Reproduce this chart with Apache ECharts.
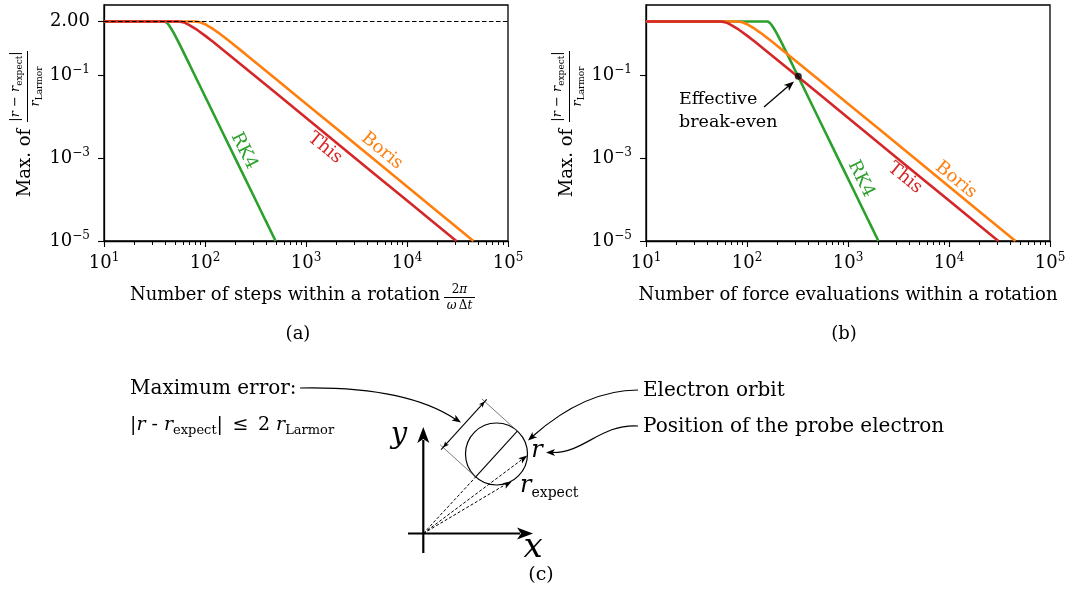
<!DOCTYPE html>
<html>
<head>
<meta charset="utf-8">
<title>Max. error per rotation</title>
<script src="https://cdn.jsdelivr.net/npm/echarts@6.0.0/dist/echarts.min.js"></script>
<style>
  html, body { margin: 0; padding: 0; background: #fff; }
  #main { width: 1068px; height: 593px; }
</style>
</head>
<body>
<div id="main"></div>
<script>
// ---- values ----
// (a) x = steps within a rotation, y = max. |r - r_expect| / r_Larmor
const rk4Steps = [10, 20, 30, 38, 40, 42, 44, 46, 48, 50, 55, 60, 70, 80, 100, 150, 200, 300, 400, 500];
const rk4Err = [2, 2, 2, 2, 2, 1.86, 1.62, 1.37, 1.15, 0.959, 0.617, 0.401, 0.186, 0.0954, 0.0313, 0.00412, 9.77e-4, 1.29e-4, 3.05e-5, 1.0e-5];
const thisSteps = [10, 20, 40, 55, 60, 65, 70, 80, 90, 100, 120, 150, 200, 300, 500, 1000, 2000, 5000, 10000, 20000, 30800];
const thisErr = [2, 2, 2, 2, 1.93, 1.80, 1.64, 1.35, 1.10, 0.910, 0.645, 0.417, 0.236, 0.105, 0.0378, 0.00945, 2.36e-3, 3.78e-4, 9.45e-5, 2.36e-5, 1.0e-5];
const borisSteps = [10, 40, 80, 90, 100, 110, 120, 135, 150, 175, 200, 250, 300, 500, 1000, 2000, 5000, 10000, 20000, 45500];
const borisErr = [2, 2, 2, 1.91, 1.72, 1.51, 1.32, 1.08, 0.888, 0.663, 0.512, 0.330, 0.229, 0.0828, 0.0207, 5.18e-3, 8.28e-4, 2.07e-4, 5.18e-5, 1.0e-5];
// (b) x = force evaluations within a rotation (RK4 needs 4 per step)
const rk4Evals = [10, 80, 120, 152, 160, 168, 176, 184, 192, 200, 220, 240, 280, 320, 400, 600, 800, 1200, 1600, 2000];
const rk4ErrB = [2, 2, 2, 2, 2, 1.86, 1.62, 1.37, 1.15, 0.959, 0.617, 0.401, 0.186, 0.0954, 0.0313, 0.00412, 9.77e-4, 1.29e-4, 3.05e-5, 1.0e-5];
const thisEvals = thisSteps;
const borisEvals = borisSteps;
const breakEven = [322, 0.095];

const xTicks = [10, 100, 1000, 10000, 100000];
const yTicksA = [1e-5, 1e-3, 1e-1, 2];
const yTicksB = [1e-5, 1e-3, 1e-1];
const limitLine = 2;
const yMin = 1e-5, yMax = 5;

const FONT = 'DejaVu Serif';
const C_RK4 = '#2ca02c', C_BORIS = '#ff7f0e', C_THIS = '#d62728';

// minor x ticks 2..9 x each decade
const minorTicks = [];
for (let d = 10; d < 1e5; d *= 10) for (let k = 2; k <= 9; k++) minorTicks.push(k * d);

function pairs(xs, ys) { return xs.map((x, i) => [x, ys[i]]); }

function powLabel(v) {
  if (Math.abs(v - 2) < 1e-9) return '{b|2.00}';
  const e = Math.round(Math.log10(v));
  return '{b|10}{sup|' + (e < 0 ? '\u2212' + (-e) : e) + '}';
}
const tickRich = {
  b: { fontFamily: FONT, fontSize: 18, color: '#000', lineHeight: 22 },
  sup: { fontFamily: FONT, fontSize: 12, color: '#000', lineHeight: 12, verticalAlign: 'top' }
};

function xAxisFor(grid) {
  return {
    type: 'log', gridIndex: grid, min: 10, max: 1e5, position: 'bottom',
    axisLine: { show: true, lineStyle: { color: '#000', width: 1.3 } },
    axisTick: { show: true, customValues: xTicks, length: 6, lineStyle: { color: '#000', width: 1.1 } },
    axisLabel: { customValues: xTicks, formatter: powLabel, rich: tickRich, margin: 11 },
    splitLine: { show: false }
  };
}
function yAxisFor(grid, ticks) {
  return {
    type: 'log', gridIndex: grid, min: yMin, max: yMax,
    axisLine: { show: true, lineStyle: { color: '#000', width: 1.3 } },
    axisTick: { show: true, customValues: ticks, length: 6, lineStyle: { color: '#000', width: 1.1 } },
    axisLabel: { customValues: ticks, formatter: powLabel, rich: tickRich, margin: 14 },
    splitLine: { show: false }
  };
}
function line(name, xi, yi, xs, ys, color, extra) {
  return Object.assign({
    name, type: 'line', xAxisIndex: xi, yAxisIndex: yi, data: pairs(xs, ys),
    showSymbol: false, symbol: 'none', clip: true,
    lineStyle: { color, width: 2.6 }, itemStyle: { color }
  }, extra || {});
}
// outward minor tick marks on the bottom axis, placed through the axis scale
function minorTickSeries(xi, yi) {
  return {
    type: 'custom', xAxisIndex: xi, yAxisIndex: yi, silent: true, clip: false, z: 3,
    data: minorTicks.map(v => [v, yMin]),
    encode: { x: 0, y: 1 },
    renderItem: function (params, api) {
      const p = api.coord([api.value(0), api.value(1)]);
      const x = Math.round(p[0]) + 0.5;
      return { type: 'line', shape: { x1: x, y1: p[1], x2: x, y2: p[1] + 4 },
        style: { stroke: '#000', lineWidth: 1 } };
    }
  };
}

// ---- annotation helpers ----
const g = [];
function txt(x, y, text, size, more) {
  more = more || {};
  g.push({
    type: 'text', x, y, rotation: more.rotation || 0, z: 100,
    style: Object.assign({ text, fontFamily: FONT, fontSize: size, fill: more.fill || '#000',
      align: more.align || 'center', verticalAlign: 'middle' }, more.style || {})
  });
}
function seg(x1, y1, x2, y2, w, dash, color) {
  g.push({ type: 'line', z: 100, shape: { x1, y1, x2, y2 },
    style: { stroke: color || '#000', lineWidth: w, lineDash: dash || null } });
}
function head(x, y, ang, len, half) {
  const c = Math.cos(ang), s = Math.sin(ang);
  const bx = x - c * len, by = y - s * len;
  const nx = x - c * len * 0.75, ny = y - s * len * 0.75;
  g.push({ type: 'polygon', z: 101, shape: { points: [[x, y], [bx - s * half, by + c * half], [nx, ny], [bx + s * half, by - c * half]] },
    style: { fill: '#000' } });
}
function mathRich(size) {
  return {
    i: { fontFamily: FONT, fontStyle: 'italic', fontSize: size, lineHeight: Math.round(size * 1.3) },
    n: { fontFamily: FONT, fontSize: size, lineHeight: Math.round(size * 1.3) },
    sub: { fontFamily: FONT, fontSize: Math.round(size * 0.68), lineHeight: Math.round(size * 0.68), verticalAlign: 'bottom' }
  };
}

// y-axis titles
[0, 542].forEach(function (dx) {
  txt(25 + dx, 163, 'Max. of', 18, { rotation: Math.PI / 2 });
  txt(16 + dx, 86.5, '|{i|r} \u2212 {i|r}{sub|expect}|', 13, { rotation: Math.PI / 2, style: { rich: mathRich(13), lineHeight: 17 } });
  seg(27.5 + dx, 51, 27.5 + dx, 122, 1);
  txt(36 + dx, 86.5, '{i|r}{sub|Larmor}', 13, { rotation: Math.PI / 2, style: { rich: mathRich(13), lineHeight: 17 } });
});
// x-axis titles
txt(440, 295, 'Number of steps within a rotation', 18, { align: 'right' });
txt(459.5, 289.5, '2{i|\u03c0}', 12, { style: { rich: mathRich(12) } });
seg(444, 297.5, 475, 297.5, 1);
txt(459.5, 305.5, '{i|\u03c9}\u2009\u0394{i|t}', 12, { style: { rich: mathRich(12) } });
txt(848, 295, 'Number of force evaluations within a rotation', 18);
txt(298, 334, '(a)', 18);
txt(844, 334, '(b)', 18);

// curve labels
const SL = -0.686, ST = -1.11;
txt(244, 151, 'RK4', 18, { rotation: ST, fill: C_RK4 });
txt(325, 148, 'This', 18, { rotation: SL, fill: C_THIS });
txt(382, 151, 'Boris', 18, { rotation: SL, fill: C_BORIS });
txt(861, 179, 'RK4', 18, { rotation: ST, fill: C_RK4 });
txt(905, 178, 'This', 18, { rotation: SL, fill: C_THIS });
txt(956, 180, 'Boris', 18, { rotation: SL, fill: C_BORIS });

// break-even annotation
txt(679, 99, 'Effective', 17.5, { align: 'left' });
txt(679, 122, 'break-even', 17.5, { align: 'left' });
seg(764, 107, 789, 85.5, 1.3);
head(794, 81.5, Math.atan2(-25.5, 30), 10, 4);

// ---- (c) sketch ----
const O = [423.3, 533.5];
seg(O[0], 553, O[0], 440, 2.2);
head(O[0], 427, -Math.PI / 2, 16, 6);
seg(408, O[1], 520, O[1], 2.2);
head(533, O[1], 0, 16, 6);
txt(399, 435, 'y', 29, { style: { fontStyle: 'italic' } });
txt(533, 548, 'x', 34, { style: { fontStyle: 'italic' } });

const Cc = [496.5, 454], R = 31;
const u = [0.671, -0.741], v = [-0.741, -0.671];
g.push({ type: 'circle', z: 100, shape: { cx: Cc[0], cy: Cc[1], r: R }, style: { fill: 'none', stroke: '#000', lineWidth: 1.2 } });
const P1 = [Cc[0] - R * u[0], Cc[1] - R * u[1]], P2 = [Cc[0] + R * u[0], Cc[1] + R * u[1]];
seg(P1[0], P1[1], P2[0], P2[1], 1.1);
seg(P1[0], P1[1], P1[0] + 48 * v[0], P1[1] + 48 * v[1], 0.7, null, '#444');
seg(P2[0], P2[1], P2[0] + 48 * v[0], P2[1] + 48 * v[1], 0.7, null, '#444');
const D1 = [P1[0] + 44 * v[0], P1[1] + 44 * v[1]], D2 = [P2[0] + 44 * v[0], P2[1] + 44 * v[1]];
seg(D1[0] - 3 * u[0], D1[1] - 3 * u[1], D2[0] + 3 * u[0], D2[1] + 3 * u[1], 1.1);
head(D1[0], D1[1], Math.atan2(-u[1], -u[0]), 6, 2.5);
head(D2[0], D2[1], Math.atan2(u[1], u[0]), 6, 2.5);
const Rp = [527.3, 455.5], Ep = [511.7, 481.5];
seg(O[0], O[1], P1[0], P1[1], 1, [3, 2]);
seg(O[0], O[1], Rp[0] - 6, Rp[1] + 4.5, 1, [3, 2]);
head(Rp[0], Rp[1], Math.atan2(Rp[1] - O[1], Rp[0] - O[0]), 9, 3.2);
seg(O[0], O[1], Ep[0] - 7, Ep[1] + 3.5, 1, [3, 2]);
head(Ep[0], Ep[1], Math.atan2(Ep[1] - O[1], Ep[0] - O[0]), 9, 3.2);
txt(537, 451, '{i|r}', 24, { style: { rich: mathRich(24) } });
txt(520, 486, '{i|r}{sub|expect}', 24, { align: 'left', style: { rich: { i: { fontFamily: FONT, fontStyle: 'italic', fontSize: 24, lineHeight: 28 }, sub: { fontFamily: FONT, fontSize: 14, lineHeight: 14, verticalAlign: 'bottom' } } } });

txt(130, 389, 'Maximum error:', 20, { align: 'left' });
txt(130, 425, '|{i|r} - {i|r}{sub|expect}|\u2002\u2264\u20022 {i|r}{sub|Larmor}', 19, { align: 'left', style: { rich: mathRich(19), lineHeight: 24 } });
txt(643, 391, 'Electron orbit', 20, { align: 'left' });
txt(643, 427, 'Position of the probe electron', 20, { align: 'left' });
txt(541, 575, '(c)', 19);

g.push({ type: 'bezierCurve', z: 100, shape: { x1: 300, y1: 388, cpx1: 405, cpy1: 386, x2: 455, y2: 419 }, style: { fill: 'none', stroke: '#000', lineWidth: 1.2 } });
head(461, 422.5, Math.atan2(36.5, 56), 9, 3.5);
g.push({ type: 'bezierCurve', z: 100, shape: { x1: 638, y1: 390, cpx1: 585, cpy1: 390, x2: 533, y2: 436 }, style: { fill: 'none', stroke: '#000', lineWidth: 1.2 } });
head(528, 440.5, Math.atan2(50.5, -57), 9, 3.5);
g.push({ type: 'bezierCurve', z: 100, shape: { x1: 638, y1: 426, cpx1: 600, cpy1: 424, cpx2: 585, cpy2: 452.5, x2: 553, y2: 452.5 }, style: { fill: 'none', stroke: '#000', lineWidth: 1.2 } });
head(546, 452.5, Math.PI, 9, 3.5);

const chart = echarts.init(document.getElementById('main'), null, { renderer: 'canvas' });
chart.setOption({
  animation: false,
  backgroundColor: '#fff',
  grid: [
    { left: 104, top: 5, width: 404, height: 236, show: true, borderColor: '#000', borderWidth: 1.3, backgroundColor: 'transparent', outerBoundsMode: 'none', containLabel: false },
    { left: 646, top: 5, width: 404, height: 236, show: true, borderColor: '#000', borderWidth: 1.3, backgroundColor: 'transparent', outerBoundsMode: 'none', containLabel: false }
  ],
  xAxis: [xAxisFor(0), xAxisFor(1)],
  yAxis: [yAxisFor(0, yTicksA), yAxisFor(1, yTicksB)],
  series: [
    line('RK4', 0, 0, rk4Steps, rk4Err, C_RK4),
    line('Boris', 0, 0, borisSteps, borisErr, C_BORIS),
    line('This', 0, 0, thisSteps, thisErr, C_THIS, {
      markLine: {
        silent: true, symbol: 'none', z: 10, label: { show: false },
        lineStyle: { type: [4.5, 2.5], color: '#000', width: 1.2 },
        data: [{ yAxis: limitLine }]
      }
    }),
    line('RK4', 1, 1, rk4Evals, rk4ErrB, C_RK4),
    line('Boris', 1, 1, borisEvals, borisErr, C_BORIS),
    line('This', 1, 1, thisEvals, thisErr, C_THIS),
    {
      name: 'break-even', type: 'scatter', xAxisIndex: 1, yAxisIndex: 1, z: 10,
      data: [breakEven], symbol: 'circle', symbolSize: 7, itemStyle: { color: '#000' }
    },
    minorTickSeries(0, 0),
    minorTickSeries(1, 1)
  ],
  graphic: { elements: g }
});
</script>
</body>
</html>
